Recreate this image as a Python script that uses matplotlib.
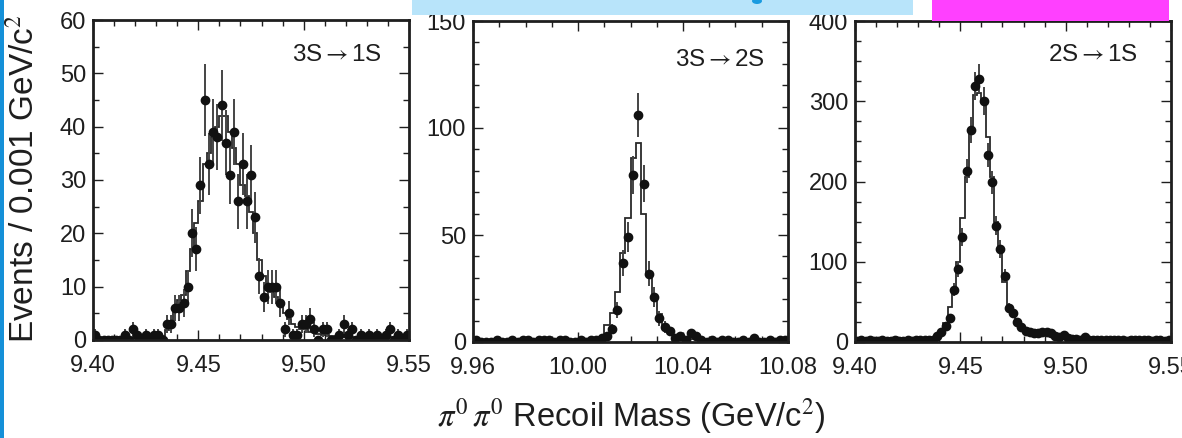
import numpy as np
import matplotlib
matplotlib.use("Agg")
import matplotlib.pyplot as plt
from matplotlib.patches import Rectangle, Ellipse

plt.rcParams['font.family'] = ['Liberation Sans', 'DejaVu Sans']
plt.rcParams['mathtext.fontset'] = 'stix'

# ---- data (2 MeV bins, counts) ----
# 3S -> 1S, bins 9.400 .. 9.550
counts_31 = [1, 0, 0, 0, 0, 0, 0, 1, 0, 2, 1, 0, 1, 0, 1, 1, 0, 3, 3, 6,
             6, 7, 10, 20, 17, 29, 45, 33, 39, 38, 44, 37, 31, 39, 26, 33, 26, 31, 23, 12,
             8, 10, 10, 10, 7, 2, 5, 1, 1, 3, 3, 4, 2, 0, 2, 2, 0, 0, 1, 3,
             1, 2, 0, 1, 0, 1, 0, 1, 0, 1, 2, 0, 1, 0, 1]
mc_31 = [0.3, 0.3, 0.3, 0.3, 0.3, 0.3, 0.3, 0.3, 0.3, 0.3, 0.3, 0.3, 0.3, 0.3, 0.3, 0.3, 0.8, 1.8, 3.5, 5.5,
         7.5, 8.5, 13, 17, 22, 26, 33, 35, 38, 40, 42, 42, 39, 36, 33, 29, 27, 24, 20, 15,
         12, 10, 9, 8, 7, 5, 4, 3, 2.5, 2, 2, 1.5, 1.5, 1.2, 1, 1, 0.7, 0.7, 0.6, 0.6,
         0.6, 0.6, 0.6, 0.6, 0.6, 0.6, 0.6, 0.6, 0.6, 0.6, 0.6, 0.6, 0.6, 0.6, 0.6]

# 3S -> 2S, bins 9.960 .. 10.080
counts_32 = [1, 0, 0, 0, 1, 0, 0, 1, 0, 1, 1, 0, 1, 1, 1, 0, 1, 1, 0, 0,
             1, 0, 1, 1, 2, 3, 6, 15, 37, 49, 78, 106, 74, 32, 21, 11, 7, 5, 2, 3,
             1, 4, 3, 1, 0, 1, 0, 1, 1, 0, 0, 1, 0, 2, 0, 0, 1, 0, 1, 1]
mc_32 = [0.5, 0.5, 0.5, 0.5, 0.5, 0.5, 0.5, 0.5, 0.5, 0.5, 0.5, 0.5, 0.5, 0.5, 0.5, 0.5, 0.5, 0.5, 0.5, 0.5,
         0.5, 0.5, 0.5, 1.0, 2.5, 8, 13.5, 23.5, 41.5, 58, 86, 93, 60, 32, 21, 13, 8, 5, 3.5, 2.5,
         2, 1.5, 1.2, 1, 1, 1, 0.9, 0.9, 0.8, 0.8, 0.8, 0.7, 0.7, 0.7, 0.6, 0.6, 0.6, 0.6, 0.6, 0.6]

# 2S -> 1S, bins 9.400 .. 9.550
counts_21 = [1, 2, 1, 2, 1, 1, 2, 1, 1, 2, 1, 1, 2, 1, 2, 2, 2, 3, 3, 7,
             13, 20, 30, 65, 91, 131, 213, 264, 319, 328, 300, 233, 199, 145, 116, 82, 42, 36, 25, 19,
             14, 12, 11, 11, 12, 13, 11, 7, 6, 9, 5, 4, 4, 3, 6, 3, 3, 2, 3, 2,
             3, 2, 3, 2, 1, 2, 2, 3, 2, 2, 1, 2, 2, 1, 2]
mc_21 = [1.2, 1.2, 1.2, 1.2, 1.2, 1.2, 1.2, 1.2, 1.2, 1.2, 1.2, 1.2, 1.2, 1.2, 1.2, 1.2, 1.5, 2, 4, 8,
         14, 24, 43, 62, 100, 155, 205, 262, 308, 310, 300, 256, 205, 150, 118, 75, 45, 32, 24, 18,
         14, 12, 11, 10, 9.5, 9, 8, 7, 6, 5.5, 5, 4.5, 4, 3.5, 3, 3, 2.5, 2.5, 2, 2,
         2, 2, 2, 2, 2, 1.8, 1.8, 1.8, 1.7, 1.7, 1.6, 1.6, 1.5, 1.5, 1.5]

panels = [
    ("3S$\\rightarrow$1S", 9.40, 9.55, counts_31, mc_31, 60, [9.40, 9.45, 9.50, 9.55], 0.01, 10, 5),
    ("3S$\\rightarrow$2S", 9.96, 10.08, counts_32, mc_32, 150, [9.96, 10.00, 10.04, 10.08], 0.01, 50, 10),
    ("2S$\\rightarrow$1S", 9.40, 9.55, counts_21, mc_21, 400, [9.40, 9.45, 9.50, 9.55], 0.01, 100, 25),
]
xtick_labels = [["9.40", "9.45", "9.50", "9.55"],
                ["9.96", "10.00", "10.04", "10.08"],
                ["9.40", "9.45", "9.50", "9.55"]]
label_pos = [(0.77, 0.89), (0.784, 0.878), (0.753, 0.894)]

W, H = 1182, 438
fig = plt.figure(figsize=(W / 100, H / 100), dpi=100)

# axes placement in pixels (left, top, right, bottom)
boxes = [(93, 20, 409, 340), (473, 21, 788, 342), (855, 21, 1171, 342)]
ink = '#1e1e1e'

for i, (name, lo, hi, counts, mc, ymax, xt, xminor, ymajor, yminor) in enumerate(panels):
    l, t, r, b = boxes[i]
    ax = fig.add_axes([l / W, (H - b) / H, (r - l) / W, (b - t) / H])
    counts = np.array(counts, dtype=float)
    edges = np.linspace(lo, hi, len(counts) + 1)
    centers = 0.5 * (edges[:-1] + edges[1:])
    ax.stairs(mc, edges, color='#2a2a2a', lw=1.3)
    ax.errorbar(centers, counts, yerr=np.sqrt(counts), fmt='o', ms=6,
                color='#111111', ecolor='#444444', elinewidth=1.4, capsize=0)
    ax.set_xlim(lo, hi)
    ax.set_ylim(0, ymax)
    ax.set_xticks(xt)
    ax.set_xticklabels(xtick_labels[i])
    ax.set_xticks(np.arange(lo, hi + 1e-9, xminor), minor=True)
    ax.set_yticks(np.arange(0, ymax + 1e-9, ymajor))
    ax.set_yticks(np.arange(0, ymax + 1e-9, yminor), minor=True)
    ax.tick_params(which='both', direction='in', top=True, right=True, colors=ink,
                   labelsize=17, width=1.0)
    ax.tick_params(which='major', length=7)
    ax.tick_params(which='minor', length=4)
    ax.tick_params(axis='x', pad=11)
    ax.tick_params(axis='y', pad=5)
    for s in ax.spines.values():
        s.set_linewidth(2.0)
        s.set_color(ink)
    ax.text(label_pos[i][0], label_pos[i][1], name, transform=ax.transAxes,
            ha='center', va='center', fontsize=17.5, color=ink)

fig.text(24 / W, (H - 179) / H, "Events / 0.001 GeV/c$^2$", rotation=90,
         ha='center', va='center', fontsize=24, color=ink)
fig.text(631 / W, (H - 416) / H, r"$\pi^0\,\pi^0$ Recoil Mass (GeV/c$^2$)",
         ha='center', va='center', fontsize=23.5, color=ink)


# slide decorations around the screenshot
def px_rect(x, y, w, h, color):
    fig.add_artist(Rectangle((x / W, (H - y - h) / H), w / W, h / H,
                             transform=fig.transFigure, color=color, lw=0, zorder=10))


px_rect(0, 0, 4, H, '#1590d8')
px_rect(412, 0, 501, 15, '#b8e4fa')
px_rect(932, 0, 237, 21, '#ff40ff')
fig.add_artist(Ellipse((757 / W, (H - 1) / H), 10 / W, 6 / H, transform=fig.transFigure,
                       color='#1a9be0', lw=0, zorder=11))

fig.savefig("out.png", dpi=100)
